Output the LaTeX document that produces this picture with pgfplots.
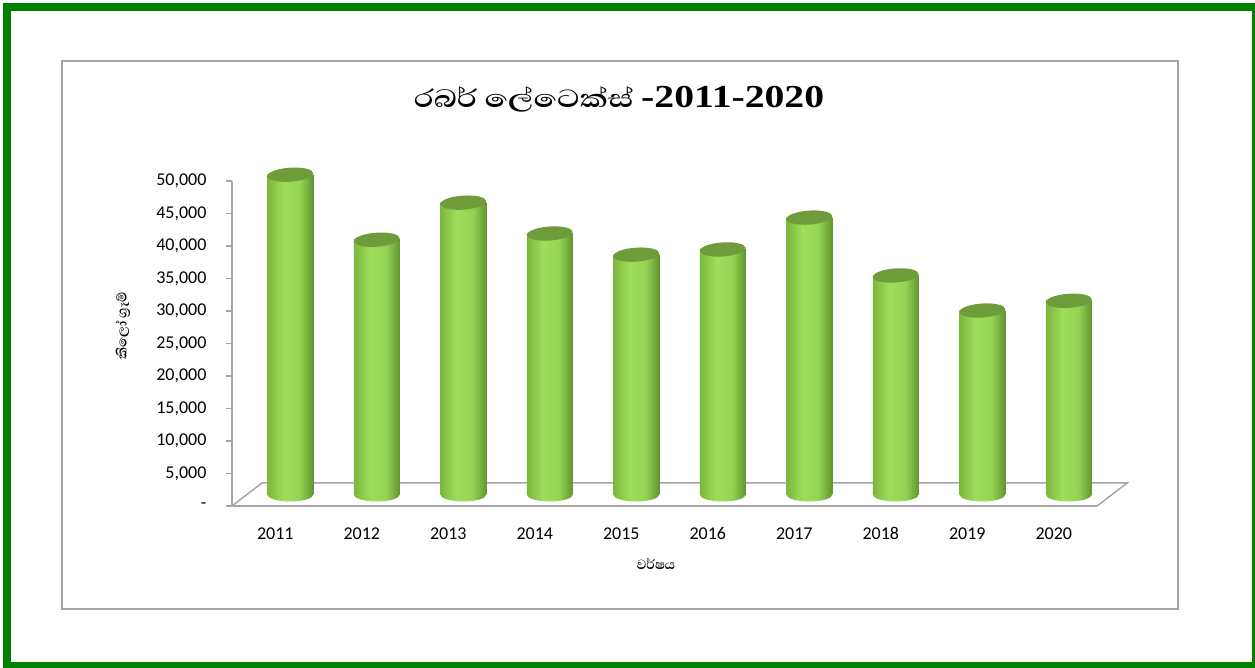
\documentclass[border=0pt]{standalone}
\usepackage{graphicx}
\usepackage{fontspec}
\setmainfont{Carlito}
\newfontfamily\sinfont[Script=Sinhala]{Abhaya Libre}
\newfontfamily\titlefont{Liberation Serif}
\usepackage{pgfplots}
\usepackage{pgfplotstable}
\pgfplotsset{compat=1.18}

\definecolor{frameg}{HTML}{008000}
\definecolor{boxgray}{HTML}{A6A6A6}
\definecolor{cylL}{HTML}{7CB63D}
\definecolor{cylH}{HTML}{9EDE5B}
\definecolor{cylR}{HTML}{62952E}
\definecolor{cyltopc}{HTML}{6E9C3A}

\pgfdeclarehorizontalshading{cyl}{100bp}{color(0bp)=(cylL); color(25bp)=(cylL); color(43bp)=(cylH); color(60bp)=(cylH!85!cylR); color(75bp)=(cylR); color(100bp)=(cylR)}

% cylinder caps
\pgfdeclareplotmark{cyltop}{%
  \pgfpathellipse{\pgfpointorigin}{\pgfqpoint{22.95pt}{1.6pt}}{\pgfqpoint{-0.5pt}{7pt}}%
  \pgfusepathqfill}
\pgfdeclareplotmark{cylbot}{%
  \pgfpathellipse{\pgfpointorigin}{\pgfqpoint{23pt}{0pt}}{\pgfqpoint{0pt}{7pt}}%
  \pgfshadepath{cyl}{0}\pgfusepath{discard}}

\pgfplotstableread{
x year v base
0 2011 49200 0
1 2012 39200 0
2 2013 44900 0
3 2014 40150 0
4 2015 36900 0
5 2016 37700 0
6 2017 42600 0
7 2018 33700 0
8 2019 28300 0
9 2020 29800 0
}\latex

\begin{document}
\begin{tikzpicture}
\useasboundingbox (0,0) rectangle (1255pt,668pt);
\draw[frameg, line width=8pt] (7pt,2pt) rectangle (1256pt,661pt);
\draw[boxgray, line width=1.5pt] (62pt,59pt) rectangle (1178pt,607pt);

\node[anchor=base] at (619pt,560pt)
  {\scalebox{1.24}[1]{\sinfont\bfseries\fontsize{32}{36}\selectfont රබර් ලේටෙක්ස් \titlefont -2011-2020}};

\begin{axis}[
    at={(232pt,162pt)}, anchor=south west,
    width=865pt, height=325pt, scale only axis,
    clip=false,
    xmin=-0.5, xmax=9.5, ymin=0, ymax=50000,
    scaled y ticks=false,
    axis lines=left,
    axis line style={-, draw=boxgray, line width=1.5pt},
    xtick={0,...,9},
    xticklabels={2011,2012,2013,2014,2015,2016,2017,2018,2019,2020},
    xtick style={draw=none},
    ytick={0,5000,...,50000},
    yticklabels={-,{5,000},{10,000},{15,000},{20,000},{25,000},{30,000},{35,000},{40,000},{45,000},{50,000}},
    ytick style={draw=boxgray, line width=1.5pt},
    tick align=outside, major tick length=6pt,
    yticklabel style={font=\fontsize{18}{21}\selectfont, text=black, xshift=-16pt},
    xticklabel style={font=\fontsize{18}{21}\selectfont, text=black, yshift=-12pt},
]
% floor of the 3D plot
\draw[boxgray, line width=1.5pt] (axis cs:-0.5,0) -- ++(30pt,23pt) -- ++(865pt,0pt) -- (axis cs:9.5,0);

\addplot[only marks, mark=cylbot, xshift=15pt, yshift=11.5pt]
  table[x=x, y=base] {\latex};
\pgfplotsinvokeforeach{0,...,9}{
  \addplot[ybar, bar width=46pt, draw=none, shading=cyl, xshift=15pt, yshift=11.5pt,
    restrict x to domain=#1:#1]
    table[x=x, y=v] {\latex};
}
\addplot[only marks, mark=cyltop, mark options={fill=cyltopc, draw=none}, xshift=15pt, yshift=11.5pt]
  table[x=x, y=v] {\latex};
\end{axis}

\node[rotate=90] at (123pt,342pt) {\sinfont\bfseries\fontsize{17}{19}\selectfont කිලෝ ග්‍රෑම්};
\node at (656pt,104pt) {\sinfont\bfseries\fontsize{17}{19}\selectfont වර්ෂය};
\end{tikzpicture}
\end{document}
